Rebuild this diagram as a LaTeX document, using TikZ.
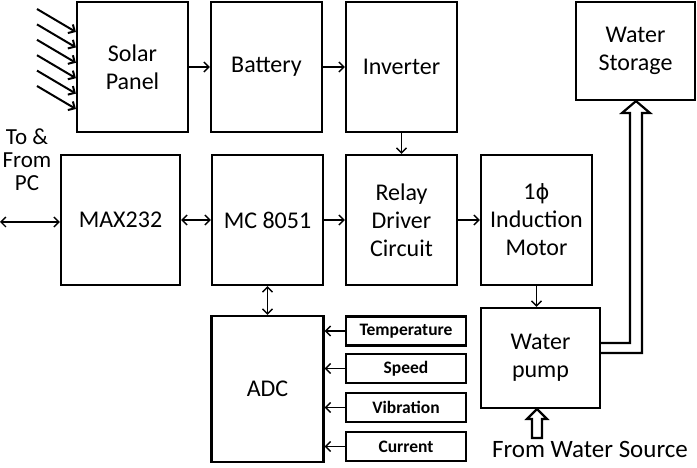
\documentclass[tikz,border=0pt]{standalone}
\usepackage{fontspec}
\setmainfont{Carlito}
\newfontfamily\phifont{DejaVu Sans}
\usetikzlibrary{arrows.meta}

\begin{document}
\begin{tikzpicture}[x=1pt, y=-1pt,
    block/.style={draw, line width=2.2pt, align=center, inner sep=0pt,
        font=\fontsize{24}{28}\selectfont},
    sensor/.style={draw, line width=2.2pt, inner sep=0pt,
        minimum width=120pt, minimum height=29pt,
        font=\fontsize{17.5}{18}\selectfont\bfseries},
    flow/.style={line width=1.4pt, -{Straight Barb[length=5pt, width=10pt]}},
    ray/.style={line width=2pt, -{Straight Barb[length=5pt, width=10pt]}},
    both/.style={line width=1.4pt, {Straight Barb[length=5pt, width=10pt]}-{Straight Barb[length=5pt, width=10pt]}},
    hollow/.style={line width=2.2pt, line join=miter}]
    \useasboundingbox (0,0) rectangle (697,468);

    \node[block, minimum width=111pt, minimum height=130pt] (solar)   at (132.5,67) {Solar\\Panel};
    \node[block, minimum width=111pt, minimum height=130pt] (battery) at (266.5,67) {Battery};
    \node[block, minimum width=111pt, minimum height=130pt] (inverter) at (401.5,67) {Inverter};
    \node[block, minimum width=119pt, minimum height=98pt]  (storage) at (635.5,51) {Water\\Storage};

    \node[block, minimum width=119pt, minimum height=130pt] (max)   at (120.5,220) {MAX232};
    \node[block, minimum width=111pt, minimum height=130pt] (mc)    at (267.5,220) {MC 8051};
    \node[block, minimum width=111pt, minimum height=130pt] (relay) at (401.5,220) {Relay\\Driver\\Circuit};
    \node[block, minimum width=111pt, minimum height=130pt] (motor) at (536.5,220) {1{\phifont\fontsize{21}{28}\selectfont ϕ}\\Induction\\Motor};

    \node[block, minimum width=112pt, minimum height=146pt] (adc)  at (267.5,389) {ADC};
    \node[block, minimum width=119pt, minimum height=100pt] (pump) at (540.5,358) {Water\\pump};

    \node[sensor] (temp)  at (406,331)   {Temperature};
    \node[sensor] (speed) at (406,368.5) {Speed};
    \node[sensor] (vib)   at (406,407.5) {Vibration};
    \node[sensor] (curr)  at (406,446.5) {Current};

    \node[align=center, font=\fontsize{23}{23}\selectfont] (pc) at (27,160) {To \&\\From\\PC};
    \node[font=\fontsize{25}{27}\selectfont] (source) at (590,449) {From Water Source};
    \coordinate (pcend) at (0,222);

    \foreach \i [evaluate=\i as \ya using 9+15.4*\i,
                 evaluate=\i as \yb using 32+15.4*\i] in {0,...,5}
        \draw[ray] (37,\ya) -- (solar.west |- 0,\yb);

    \path[flow]
    (solar)   edge (battery)
    (battery) edge (inverter)
    (inverter) edge (relay)
    (mc)      edge (relay)
    (relay)   edge (motor)
    (motor.south) edge (motor.south |- pump.north)
    (temp)    edge (temp -| adc.east)
    (speed)   edge (speed -| adc.east)
    (vib)     edge (vib -| adc.east)
    (curr)    edge (curr -| adc.east);

    \path[both]
    (pcend) edge (pcend -| max.west)
    (max)   edge (mc)
    (mc)    edge (adc);

    % pipe up to the storage tank
    \draw[hollow] (pump.east |- 0,343) -- (630,343) -- (630,113) -- (622,113)
        -- (storage.south -| 636,0) -- (650,113) -- (642,113) -- (642,353)
        -- (pump.east |- 0,353);
    % inlet from the source
    \draw[hollow] (532,438) -- (532,419) -- (527,419) -- (537,409)
        -- (547,419) -- (542,419) -- (542,438) -- cycle;
\end{tikzpicture}
\end{document}
